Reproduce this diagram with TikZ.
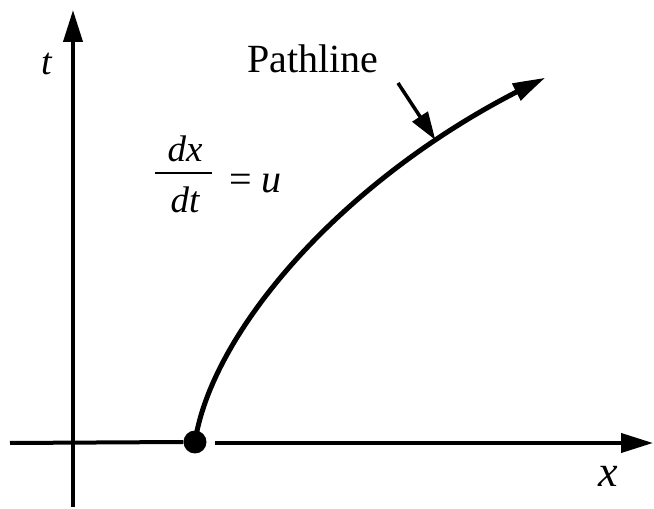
\documentclass[tikz,border=0pt]{standalone}
\usepackage{fontspec}
\setmainfont{Liberation Serif}
\usetikzlibrary{arrows.meta,bending}
\begin{document}
\begin{tikzpicture}[x=1pt,y=1pt,
  axisline/.style={line width=4pt},
  axisarrow/.style={line width=4pt,-{Triangle[length=32pt,width=19pt]}},
  pathcurve/.style={line width=5pt,-{Triangle[length=32pt,width=18pt,bend]}},
  pointer/.style={line width=3.5pt,-{Triangle[length=28pt,width=18pt]}},
  fracbar/.style={line width=2pt},
  lbl/.style={inner sep=0pt},
  eqfont/.style={font=\fontsize{37}{44}\selectfont\itshape}]
\useasboundingbox (0,0) rectangle (654,509);
% axes
\coordinate (tbot) at (73,2);
\coordinate (ttop) at (73,499);
\coordinate (xleft) at (10,66);
\coordinate (xgap) at (215,66);
\coordinate (xright) at (653,66);
\draw[axisarrow] (tbot) -- (ttop);
\node[circle,fill=black,inner sep=0pt,minimum size=23pt] (start) at (195,67) {};
\draw[axisline] (xleft) -- (start.west);
\draw[axisarrow] (xgap) -- (xright);
% pathline curve
\coordinate (cend) at (545,431);
\draw[pathcurve] (start.center) .. controls (212,180) and (350,340) .. (cend)
  coordinate[pos=0.8] (touch);
% labels
\node[lbl,anchor=base,font=\fontsize{40}{46}\selectfont] (plabel) at (313,436) {Pathline};
\coordinate (pfrom) at (398,426);
\draw[pointer] (pfrom) -- (touch);
% dx/dt = u
\node[lbl,anchor=base,eqfont] (num) at (185,347) {dx};
\node[lbl,anchor=base,eqfont] (den) at (185,296) {dt};
\coordinate (barL) at (155,336);
\coordinate (barR) at (212,336);
\draw[fracbar] (barL) -- (barR);
\node[lbl,anchor=base west,font=\fontsize{40}{46}\selectfont] (equ) at (229,316) {= \itshape u};
\node[lbl,font=\fontsize{38}{44}\selectfont\itshape] (tlabel) at (47,445) {t};
\node[lbl,font=\fontsize{44}{50}\selectfont\itshape] (xlabel) at (608,33) {x};
\end{tikzpicture}
\end{document}
